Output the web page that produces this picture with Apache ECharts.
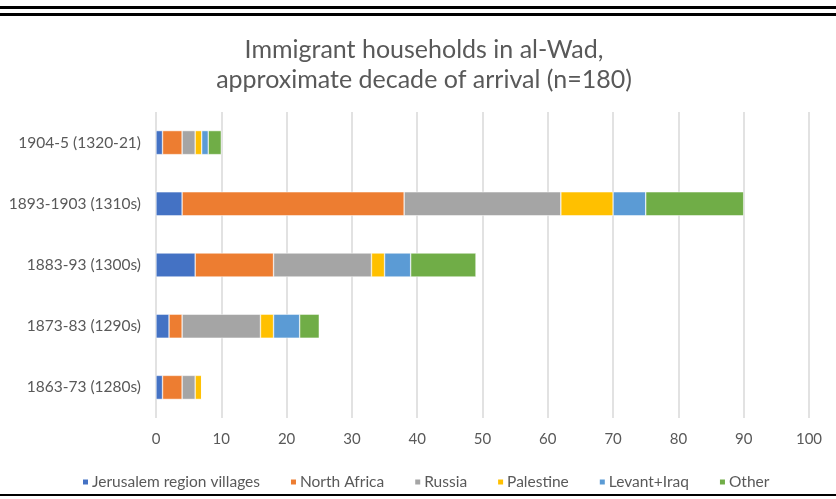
<!DOCTYPE html>
<html>
<head>
<meta charset="utf-8">
<script src="https://cdn.jsdelivr.net/npm/echarts@6/dist/echarts.min.js"></script>
<style>html,body{margin:0;padding:0;background:#fff}#c{width:836px;height:499px}</style>
</head>
<body>
<div id="c"></div>
<script>
const categories = ['1863-73 (1280s)', '1873-83 (1290s)', '1883-93 (1300s)', '1893-1903 (1310s)', '1904-5 (1320-21)'];
const seriesNames = ['Jerusalem region villages', 'North Africa', 'Russia', 'Palestine', 'Levant+Iraq', 'Other'];
const jerusalem = [1, 2, 6, 4, 1];
const northAfrica = [3, 2, 12, 34, 3];
const russia = [2, 12, 15, 24, 2];
const palestine = [1, 2, 2, 8, 1];
const levantIraq = [0, 4, 4, 5, 1];
const other = [0, 3, 10, 15, 2];
const colors = ['#4472C4', '#ED7D31', '#A5A5A5', '#FFC000', '#5B9BD5', '#70AD47'];
const allData = [jerusalem, northAfrica, russia, palestine, levantIraq, other];
const font = 'Lato, "Open Sans", sans-serif';

const chart = echarts.init(document.getElementById('c'));
chart.setOption({
  animation: false,
  title: {
    text: 'Immigrant households in al-Wad,\napproximate decade of arrival (n=180)',
    left: 419, textAlign: 'center', top: 30,
    textStyle: { fontFamily: font, fontSize: 25, fontWeight: 'normal', color: '#595959', lineHeight: 30 }
  },
  graphic: [
    { type: 'rect', shape: { x: 0, y: 6, width: 836, height: 3 }, style: { fill: '#000' } },
    { type: 'rect', shape: { x: 0, y: 13, width: 836, height: 3 }, style: { fill: '#000' } },
    { type: 'rect', shape: { x: 0, y: 494, width: 836, height: 2 }, style: { fill: '#000' } }
  ],
  legend: {
    data: seriesNames, top: 469, left: 76, itemWidth: 7, itemHeight: 7, itemGap: 29,
    icon: 'rect',
    textStyle: { fontFamily: font, fontSize: 15.5, color: '#595959', padding: [0, 0, 0, -2] }
  },
  grid: { left: 156, right: 27, top: 112, bottom: 81 },
  xAxis: {
    type: 'value', min: 0, max: 100, interval: 10,
    axisLabel: { fontFamily: font, fontSize: 15, color: '#595959', margin: 14 },
    splitLine: { lineStyle: { color: '#D9D9D9', width: 1.5 } },
    axisLine: { show: false }, axisTick: { show: false }
  },
  yAxis: {
    type: 'category', data: categories,
    axisLabel: { fontFamily: font, fontSize: 15.5, color: '#595959', margin: 15 },
    axisLine: { show: false }, axisTick: { show: false }
  },
  series: seriesNames.map((n, i) => ({
    name: n, type: 'bar', stack: 'total', data: allData[i], barWidth: 24,
    itemStyle: { color: colors[i], borderColor: '#fff', borderWidth: 0.5 }
  }))
});
</script>
</body>
</html>
